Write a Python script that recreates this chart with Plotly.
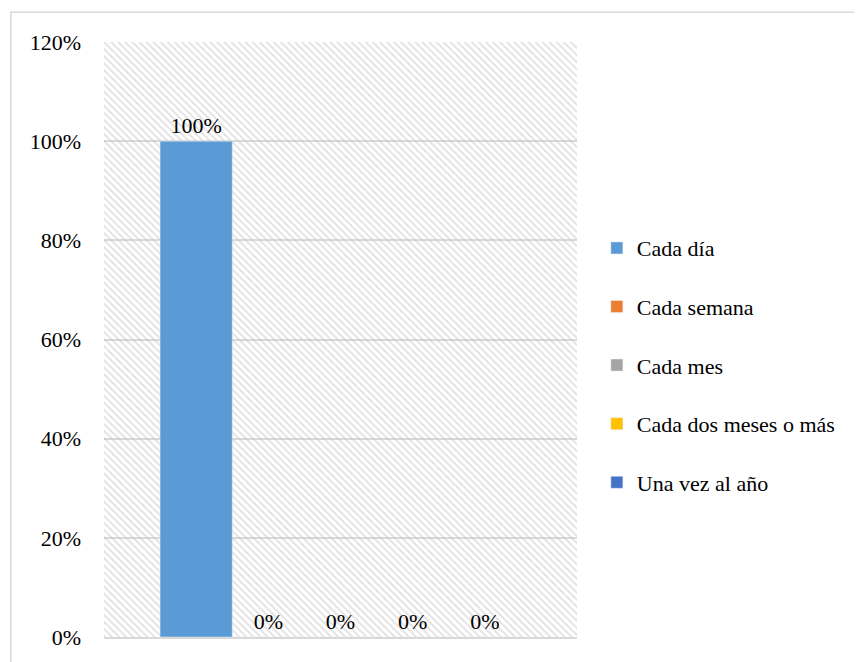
import plotly.graph_objects as go

series_names = ['Cada día', 'Cada semana', 'Cada mes', 'Cada dos meses o más', 'Una vez al año']
series_values = [1.00, 0.00, 0.00, 0.00, 0.00]
series_colors = ['#5B9BD5', '#ED7D31', '#A5A5A5', '#FFC000', '#4472C4']
category = ['Frecuencia']

font_family = 'Liberation Serif, Times New Roman, serif'

fig = go.Figure()

# patterned plot-area background (like the Excel hatched fill)
fig.add_trace(go.Bar(
    x=[0], y=[1.2], width=[1],
    xaxis='x', yaxis='y',
    marker=dict(
        color='rgba(0,0,0,0)',
        line=dict(width=0),
        pattern=dict(shape='\\', size=5, solidity=0.35,
                     fgcolor='#c4c4c4', fillmode='overlay'),
    ),
    hoverinfo='skip',
    showlegend=False,
))

for name, val, color in zip(series_names, series_values, series_colors):
    fig.add_trace(go.Bar(
        x=category,
        y=[val],
        name=name,
        legendgroup=name,
        marker_color=color,
        xaxis='x2', yaxis='y',
        text=[val],
        texttemplate='%{y:.0%}',
        textposition='outside',
        textfont=dict(size=22, color='#000000', family=font_family),
        cliponaxis=False,
    ))

fig.update_layout(
    width=854, height=654,
    barmode='group',
    bargap=0.237,
    bargroupgap=0,
    paper_bgcolor='white',
    plot_bgcolor='white',
    font=dict(family=font_family, size=22, color='#000000'),
    margin=dict(l=96, r=285, t=34, b=21),
    xaxis=dict(range=[-0.5, 0.5], showgrid=False, zeroline=False,
               showticklabels=False, showline=True, linecolor='#d9d9d9',
               linewidth=2, fixedrange=True),
    xaxis2=dict(overlaying='x', type='category', showgrid=False,
                zeroline=False, showticklabels=False, showline=False),
    yaxis=dict(range=[0, 1.2], dtick=0.2, tickformat='.0%',
               showgrid=True, gridcolor='#d9d9d9', gridwidth=1.5,
               zeroline=False, showline=False, ticklabelstandoff=22,
               tickfont=dict(size=22, color='#000000')),
    legend=dict(x=1.042, y=0.457, xanchor='left', yanchor='middle',
                tracegroupgap=27, font=dict(size=22),
                bgcolor='rgba(0,0,0,0)'),
    shapes=[dict(type='rect', xref='paper', yref='paper',
                 x0=-0.197, x1=1.7, y0=-0.2, y1=1.05,
                 line=dict(color='#d9d9d9', width=1.5), layer='below')],
)

fig.write_html("out.html")
